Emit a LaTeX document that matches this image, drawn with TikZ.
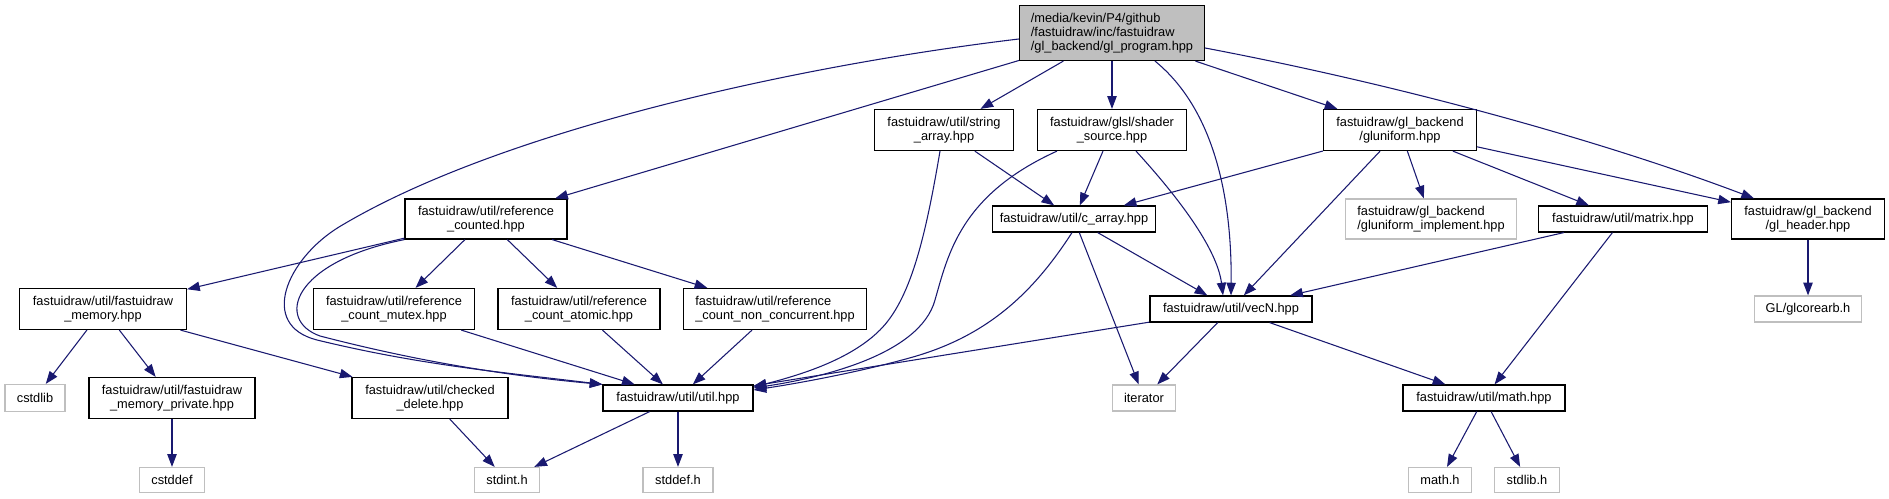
\documentclass[tikz,border=0pt]{standalone}
\usepackage{fontspec}
\setmainfont{Liberation Sans}
\usetikzlibrary{arrows.meta,calc}
\definecolor{cedge}{RGB}{25,25,112}
\definecolor{cgrey}{RGB}{191,191,191}
\tikzset{incgraph/.style={x=0.75pt,y=-0.75pt,font=\fontsize{9.6}{10.5}\selectfont}}
\tikzset{hdr/.style 2 args={draw=black,line width=0.9pt,inner sep=0pt,align=center,
           minimum width=#1*0.75pt,minimum height=#2*0.75pt},
         ext/.style 2 args={hdr={#1}{#2},draw=cgrey},
         inc/.style={cedge,line width=0.8pt,-{Triangle[length=9.5pt,width=7pt]}}}

\begin{document}
\begin{tikzpicture}[incgraph]
    \useasboundingbox (0,0) rectangle (1889,499);
    % row 1
    \node[hdr={185}{55},fill=cgrey,align=left] (root) at (1112,33)
        {/media/kevin/P4/github\\/fastuidraw/inc/fastuidraw\\/gl\_backend/gl\_program.hpp};
    % row 2
    \node[hdr={139}{41}] (strarr) at (944,130) {fastuidraw/util/string\\\_array.hpp};
    \node[hdr={149}{41}] (shsrc)  at (1112,130) {fastuidraw/glsl/shader\\\_source.hpp};
    \node[hdr={153}{41}] (glunif) at (1400,130) {fastuidraw/gl\_backend\\/gluniform.hpp};
    % row 3
    \node[hdr={162}{40}] (refcnt) at (486,219) {fastuidraw/util/reference\\\_counted.hpp};
    \node[hdr={163}{26}] (carray) at (1074,219) {fastuidraw/util/c\_array.hpp};
    \node[ext={171}{40},align=left] (glunifimpl) at (1431,219) {fastuidraw/gl\_backend\\/gluniform\_implement.hpp};
    \node[hdr={169}{26}] (matrix) at (1623,219) {fastuidraw/util/matrix.hpp};
    \node[hdr={153}{40}] (glhdr)  at (1808,219) {fastuidraw/gl\_backend\\/gl\_header.hpp};
    % row 4
    \node[hdr={167}{41}] (fdmem)    at (103,309) {fastuidraw/util/fastuidraw\\\_memory.hpp};
    \node[hdr={161}{41}] (rcmutex)  at (394,309) {fastuidraw/util/reference\\\_count\_mutex.hpp};
    \node[hdr={162}{41}] (rcatomic) at (579,309) {fastuidraw/util/reference\\\_count\_atomic.hpp};
    \node[hdr={183}{41},align=left] (rcnc) at (775,309) {fastuidraw/util/reference\\\_count\_non\_concurrent.hpp};
    \node[hdr={162}{26}] (vecn)     at (1231,309) {fastuidraw/util/vecN.hpp};
    \node[ext={107}{26}] (glcore)   at (1808,309) {GL/glcorearb.h};
    % row 5
    \node[ext={60}{27}]  (cstdlib)   at (35,398) {cstdlib};
    \node[hdr={166}{41}] (fdmempriv) at (172,398) {fastuidraw/util/fastuidraw\\\_memory\_private.hpp};
    \node[hdr={156}{41}] (chkdel)    at (430,398) {fastuidraw/util/checked\\\_delete.hpp};
    \node[hdr={150}{26}] (util)      at (678,398) {fastuidraw/util/util.hpp};
    \node[ext={63}{26}]  (iter)      at (1144,398) {iterator};
    \node[hdr={162}{26}] (mathhpp)   at (1484,398) {fastuidraw/util/math.hpp};
    % row 6
    \node[ext={65}{25}] (cstddef) at (172,480) {cstddef};
    \node[ext={65}{25}] (stdint)  at (507,480) {stdint.h};
    \node[ext={70}{25}] (stddef)  at (678,480) {stddef.h};
    \node[ext={63}{25}] (mathh)   at (1440,480) {math.h};
    \node[ext={65}{25}] (stdlibh) at (1527,480) {stdlib.h};
    % straight includes
    \foreach \a/\b in {root/strarr,root/shsrc,root/glunif,root/refcnt,
        strarr/carray,shsrc/carray,glunif/carray,glunif/vecn,glunif/glunifimpl,
        glunif/matrix,glunif/glhdr,carray/vecn,carray/iter,matrix/vecn,matrix/mathhpp,
        glhdr/glcore,refcnt/fdmem,refcnt/rcmutex,refcnt/rcatomic,refcnt/rcnc,
        rcmutex/util,rcatomic/util,rcnc/util,vecn/util,vecn/iter,vecn/mathhpp,
        fdmem/cstdlib,fdmem/fdmempriv,fdmem/chkdel,fdmempriv/cstddef,chkdel/stdint,
        util/stdint,util/stddef,mathhpp/mathh,mathhpp/stdlibh}
      \draw[inc] (\a) -- (\b);
    % curved includes
    \draw[inc] ($(root.west)+(0,6)$) .. controls (800,65) and (500,130) .. (339,227)
        .. controls (287,259) and (258,325) .. (317,340)
        .. controls (420,365) and (500,372) .. (util.north west);
    \draw[inc] (refcnt.south west) .. controls (292,262) and (275,320) .. (320,336)
        .. controls (420,362) and (510,376) .. (util.north west);
    \draw[inc] ($(root.south)+(43,0)$) .. controls (1215,110) and (1232,200) .. (vecn.north);
    \draw[inc] ($(root.east)+(0,15)$) .. controls (1400,85) and (1600,140) .. ($(glhdr.north)+(-54,0)$);
    \draw[inc] ($(shsrc.south)+(24,0)$) .. controls (1190,210) and (1218,255) .. ($(vecn.north)+(-8,0)$);
    \draw[inc] ($(strarr.south)+(-4,0)$) .. controls (925,240) and (910,300) .. (880,330)
        .. controls (850,360) and (800,375) .. ($(util.east)+(0,-11)$);
    \draw[inc] ($(shsrc.south)+(-55,0)$) .. controls (960,195) and (948,255) .. (935,300)
        .. controls (920,355) and (820,378) .. ($(util.east)+(0,-10)$);
    \draw[inc] ($(carray.south)+(-2,0)$) .. controls (1035,290) and (990,335) .. (913,357)
        .. controls (860,372) and (800,383) .. ($(util.east)+(0,-8)$);
\end{tikzpicture}
\end{document}
